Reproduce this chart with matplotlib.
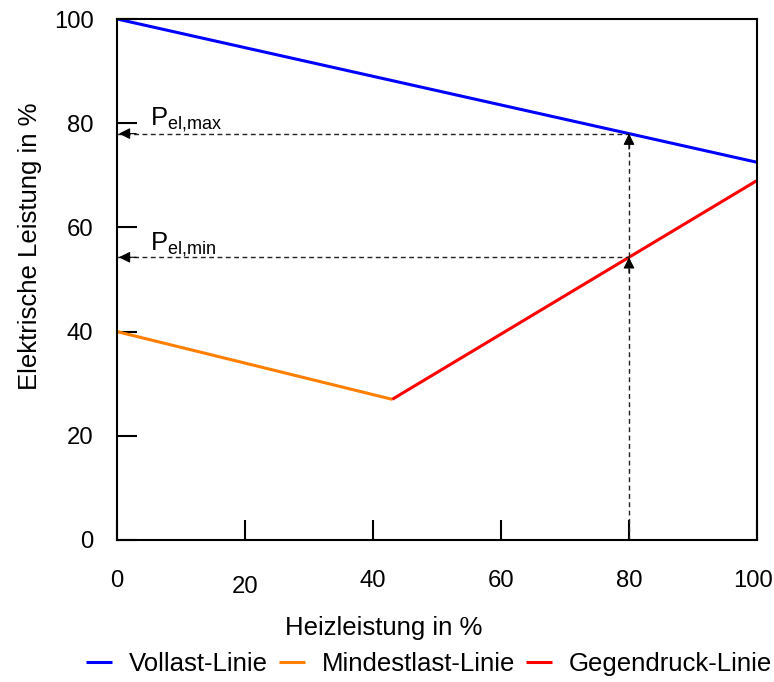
import numpy as np
import matplotlib
matplotlib.use("Agg")
import matplotlib.pyplot as plt
from matplotlib.transforms import ScaledTranslation

# chart data
vollast_x = [0, 100]
vollast_y = [100, 72.5]
mindest_x = [0, 43]
mindest_y = [40, 27]
gegendruck_x = [43, 100]
gegendruck_y = [27, 69]
x_ticks = [0, 20, 40, 60, 80, 100]
y_ticks = [0, 20, 40, 60, 80, 100]
heiz_punkt = 80

plt.rcParams['font.family'] = 'Liberation Sans'
plt.rcParams['mathtext.fontset'] = 'custom'
plt.rcParams['mathtext.rm'] = 'Liberation Sans'
plt.rcParams['mathtext.it'] = 'Liberation Sans:italic'
FS = 18.5
TICK_FS = 17.2

fig = plt.figure(figsize=(7.74, 6.82), dpi=100)
ax = fig.add_axes([117 / 774, 142 / 682, 640 / 774, 521 / 682])

ax.plot(vollast_x, vollast_y, color='#0000FF', lw=2.2, label='Vollast-Linie', solid_capstyle='butt')
ax.plot(mindest_x, mindest_y, color='#FF7F00', lw=2.2, label='Mindestlast-Linie', solid_capstyle='butt')
ax.plot(gegendruck_x, gegendruck_y, color='#FF0000', lw=2.2, label='Gegendruck-Linie', solid_capstyle='butt')

# operating point: P_el,max on full load line, P_el,min on back pressure line
p_max = np.interp(heiz_punkt, vollast_x, vollast_y)
p_min = np.interp(heiz_punkt, gegendruck_x, gegendruck_y)

dash = dict(color='#222222', lw=1.0, ls=(0, (3.5, 2.5)))
head = dict(arrowstyle='-|>', color='black', lw=0.8, mutation_scale=17,
            shrinkA=0, shrinkB=0)

ax.plot([heiz_punkt, heiz_punkt], [0, p_max], **dash)
ax.plot([0, heiz_punkt], [p_max, p_max], **dash)
ax.plot([0, heiz_punkt], [p_min, p_min], **dash)
for yy in (p_max, p_min):
    ax.annotate('', xy=(heiz_punkt, yy), xytext=(heiz_punkt, yy - 3), arrowprops=head)
    ax.annotate('', xy=(0.3, yy), xytext=(3, yy), arrowprops=head)

ax.text(5.2, 79.6, r'P$_{\mathrm{el{,}max}}$', fontsize=FS, va='baseline', ha='left')
ax.text(5.2, 55.6, r'P$_{\mathrm{el{,}min}}$', fontsize=FS, va='baseline', ha='left')

ax.set_xlim(0, 100)
ax.set_ylim(0, 100)
ax.set_xticks(x_ticks)
ax.set_yticks(y_ticks)
ax.tick_params(axis='both', direction='in', length=14.4, width=1.5, labelsize=TICK_FS)
ax.tick_params(axis='x', pad=21.5)
ax.tick_params(axis='y', pad=17)
for s in ax.spines.values():
    s.set_linewidth(1.5)

# the "20" label sits a little lower in the original, "100" a bit to the left
xl = ax.get_xticklabels()
xl[1].set_transform(xl[1].get_transform() + ScaledTranslation(0, -6 / 100, fig.dpi_scale_trans))
xl[-1].set_transform(xl[-1].get_transform() + ScaledTranslation(-4 / 100, 0, fig.dpi_scale_trans))

ax.set_xlabel('Heizleistung in %', fontsize=FS, va='center')
ax.xaxis.set_label_coords(0.416, -0.169)
ax.set_ylabel('Elektrische Leistung in %', fontsize=FS, va='center')
ax.yaxis.set_label_coords(-0.136, 0.564)

fig.legend(loc='center', bbox_to_anchor=(429 / 774, 1 - 664 / 682), ncol=3, frameon=False,
           fontsize=FS, handlelength=1.0, handletextpad=0.65, columnspacing=0.45,
           borderpad=0, borderaxespad=0)

fig.savefig('out.png', dpi=100)
